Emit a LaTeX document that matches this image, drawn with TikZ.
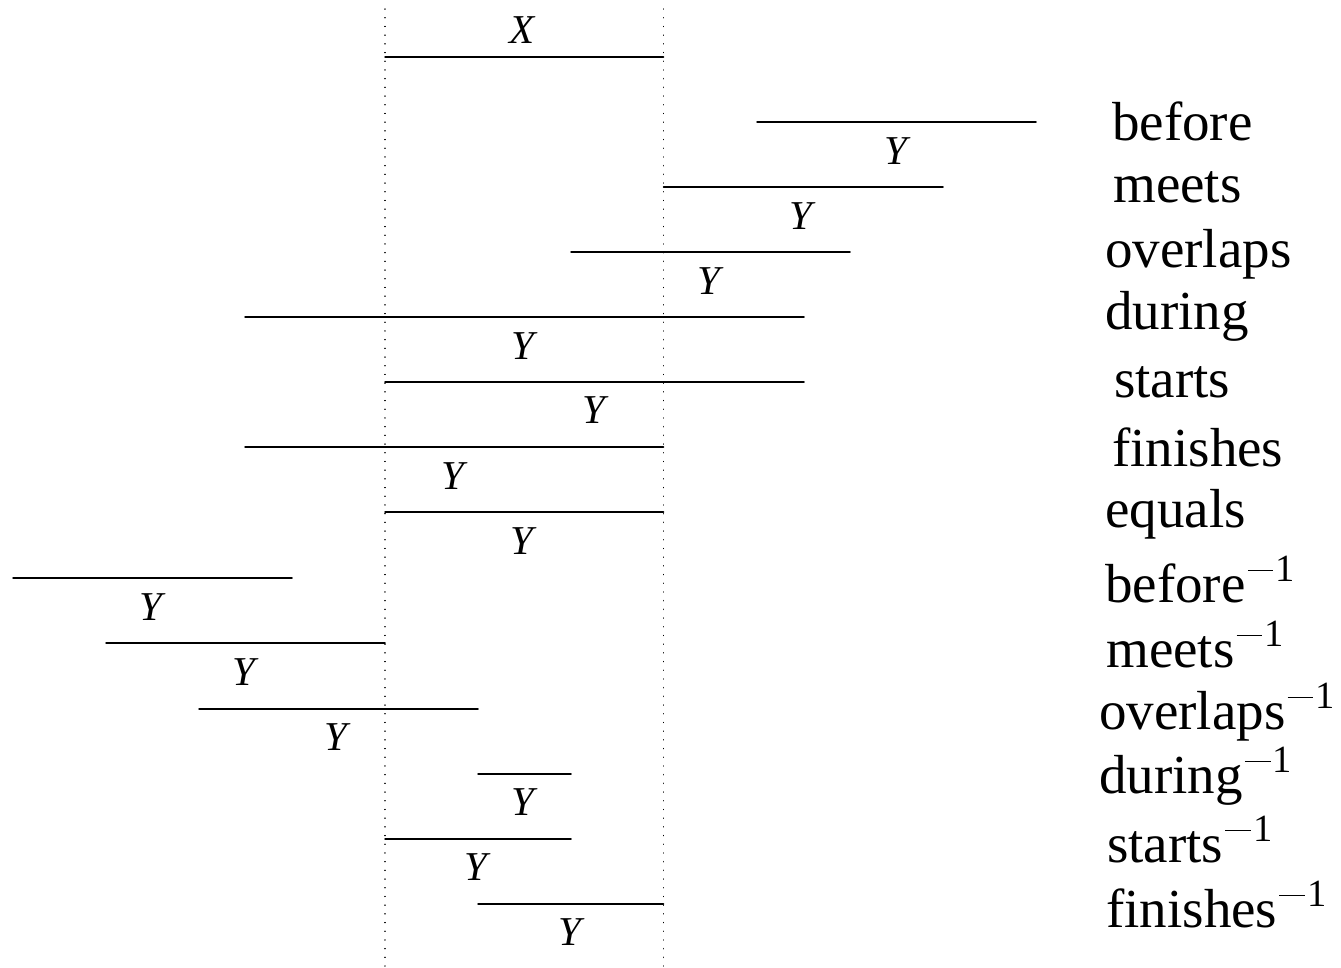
\documentclass[tikz,border=0pt]{standalone}
\usepackage{fontspec}
\setmainfont{Liberation Serif}
\newcommand{\invsup}{\raisebox{21pt}{\fontsize{38.5}{40}\selectfont\hspace{2.1pt}\rule[9.6pt]{25.7pt}{1.7pt}\hspace{2.1pt}1}}
\begin{document}
\begin{tikzpicture}[x=1pt,y=-1pt,
  seg/.style={line width=1.5pt, line cap=round},
  guide/.style={line width=1.3pt, line cap=round, dash pattern=on 0.1pt off 8.6pt},
  iv/.style={anchor=base, inner sep=0pt, font=\fontsize{41}{45}\selectfont\itshape},
  rel/.style={anchor=base west, inner sep=0pt, font=\fontsize{55}{60}\selectfont}]
\useasboundingbox (0,0) rectangle (1341,967);
% dotted guides
\coordinate (g1t) at (385,9); \coordinate (g1b) at (385,966);
\coordinate (g2t) at (663.5,9); \coordinate (g2b) at (663.5,966);
\draw[guide] (g1t) -- (g1b);
\draw[guide] (g2t) -- (g2b);
% X interval
\draw[seg] (385,57) -- (663.5,57);
\node[iv] (lx) at (522,43) {X};
% Y intervals
\draw[seg] (757,122) -- (1036,122);   \node[iv] (y1) at (896,164) {Y};
\draw[seg] (663.5,187) -- (943,187);  \node[iv] (y2) at (801,229) {Y};
\draw[seg] (571,252) -- (850,252);    \node[iv] (y3) at (709,294) {Y};
\draw[seg] (245,317) -- (804,317);    \node[iv] (y4) at (523,359) {Y};
\draw[seg] (385,382) -- (804,382);    \node[iv] (y5) at (594,423) {Y};
\draw[seg] (245,447) -- (663.5,447);  \node[iv] (y6) at (453,489) {Y};
\draw[seg] (385,512) -- (663.5,512);  \node[iv] (y7) at (522,554) {Y};
\draw[seg] (13,578) -- (292,578);     \node[iv] (y8) at (151,620) {Y};
\draw[seg] (106,643) -- (385,643);    \node[iv] (y9) at (244,685) {Y};
\draw[seg] (199,709) -- (478,709);    \node[iv] (y10) at (336,750) {Y};
\draw[seg] (478,774) -- (571,774);    \node[iv] (y11) at (523,815) {Y};
\draw[seg] (385,839) -- (571,839);    \node[iv] (y12) at (476,880) {Y};
\draw[seg] (478,904) -- (663.5,904);  \node[iv] (y13) at (570,945) {Y};
% relation names
\node[rel] (r1) at (1112,140) {before};
\node[rel] (r2) at (1113,202) {meets};
\node[rel] (r3) at (1105,267) {overlaps};
\node[rel] (r4) at (1105,329) {during};
\node[rel] (r5) at (1114,397) {starts};
\node[rel] (r6) at (1112,466) {finishes};
\node[rel] (r7) at (1105,527) {equals};
\node[rel] (r8) at (1105,602) {before\invsup};
\node[rel] (r9) at (1106,667) {meets\invsup};
\node[rel] (r10) at (1099,729) {overlaps\invsup};
\node[rel] (r11) at (1099,793) {during\invsup};
\node[rel] (r12) at (1107,862) {starts\invsup};
\node[rel] (r13) at (1106,927) {finishes\invsup};
\end{tikzpicture}
\end{document}
